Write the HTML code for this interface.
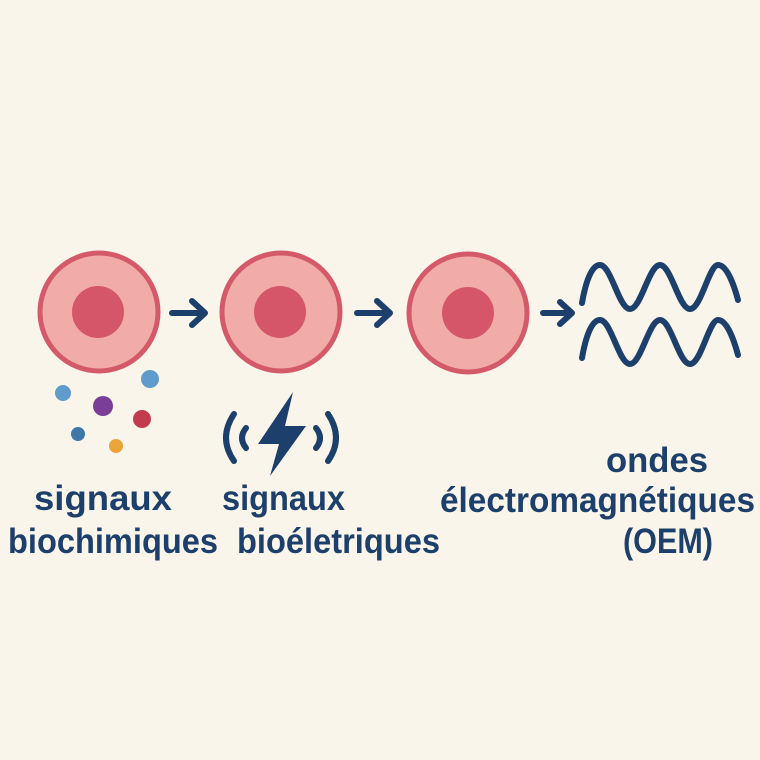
<!DOCTYPE html>
<html><head><meta charset="utf-8"><style>
html,body{margin:0;padding:0;background:#faf5ea;}
svg{display:block}
text{font-family:"Liberation Sans",sans-serif;font-weight:bold;fill:#1d3f6b;font-size:35px}
</style></head><body>
<svg width="760" height="760" viewBox="0 0 760 760">
<rect width="760" height="760" fill="#faf5ea"/>
<g stroke="#d45a6a" stroke-width="5" fill="#f1aca8">
<circle cx="99" cy="312" r="59"/>
<circle cx="281" cy="312" r="59"/>
<circle cx="468" cy="313" r="59"/>
</g>
<g fill="#d45668">
<circle cx="98" cy="312" r="26"/>
<circle cx="280" cy="312" r="26"/>
<circle cx="468" cy="313" r="26"/>
</g>
<g stroke="#1d3f6b" stroke-width="6" fill="none" stroke-linecap="round" stroke-linejoin="round">
<path d="M172 313H204M192 301L205 313L192 325"/>
<path d="M357 313H389M377 301L390 313L377 325"/>
<path d="M543 313H571M560 302L572 313L560 324"/>
<path d="M582 303 C586 280 592 265 600 265 C611 265 619 309 630 309 C641 309 649 265 660 265 C671 265 679 309 690 309 C701 309 709 265 718 265 C727 265 734 285 738 300"/>
<path d="M582 358 C586 335 592 320 600 320 C611 320 619 364 630 364 C641 364 649 320 660 320 C671 320 679 364 690 364 C701 364 709 320 718 320 C727 320 734 340 738 355"/>
<path d="M234 414 Q218 438 234 461"/>
<path d="M246 428 Q238 438 246 448"/>
<path d="M328 414 Q344 438 328 461"/>
<path d="M316 428 Q324 438 316 448"/>
</g>
<polygon points="293,392 258,444 279,444 270,476 306,426 285,426" fill="#1d3f6b"/>
<circle cx="63" cy="393" r="8" fill="#5f9ccb"/>
<circle cx="150" cy="379" r="9" fill="#5f9ccb"/>
<circle cx="103" cy="406" r="10" fill="#7a3e99"/>
<circle cx="142" cy="419" r="9" fill="#c33b4f"/>
<circle cx="78" cy="434" r="7" fill="#3e77a8"/>
<circle cx="116" cy="446" r="7" fill="#eba43a"/>
<text x="34" y="510" textLength="138" lengthAdjust="spacingAndGlyphs">signaux</text>
<text x="8" y="553" textLength="210" lengthAdjust="spacingAndGlyphs">biochimiques</text>
<text x="222" y="510" textLength="123" lengthAdjust="spacingAndGlyphs">signaux</text>
<text x="237" y="553" textLength="203" lengthAdjust="spacingAndGlyphs">bioéletriques</text>
<text x="606" y="472" textLength="102" lengthAdjust="spacingAndGlyphs">ondes</text>
<text x="440" y="512" textLength="315" lengthAdjust="spacingAndGlyphs">électromagnétiques</text>
<text x="623" y="553" textLength="90" lengthAdjust="spacingAndGlyphs">(OEM)</text>
</svg>
</body></html>
